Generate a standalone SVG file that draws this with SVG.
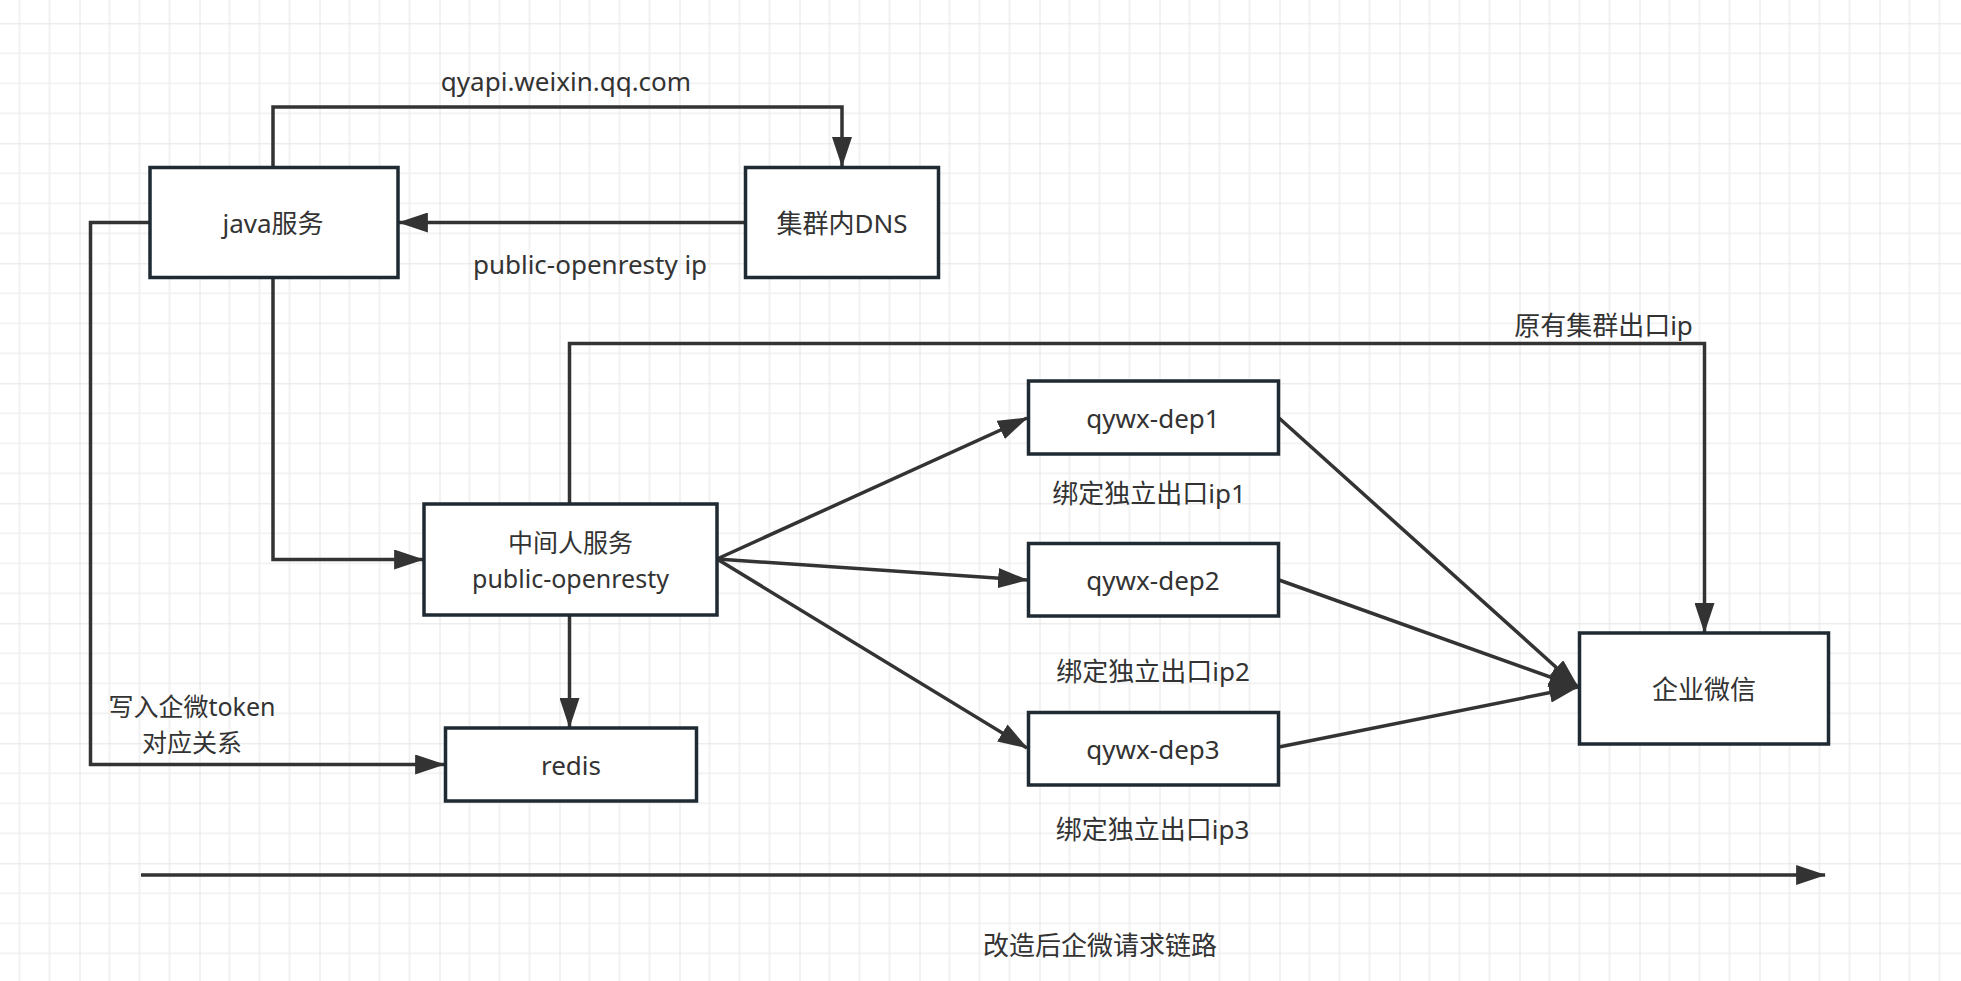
<svg xmlns="http://www.w3.org/2000/svg" width="1961" height="981" viewBox="0 0 1961 981">
<style>
.box{fill:#ffffff;stroke:#1f2a33;stroke-width:3.5}
.ln{fill:none;stroke:#333333;stroke-width:3.5;stroke-linejoin:miter}
.arr{marker-end:url(#ah)}
text{font-family:"Noto Sans","Noto Sans CJK SC",sans-serif;font-size:26px;fill:#333333;text-anchor:middle;dominant-baseline:central}
text.two{font-size:25px}
</style>
<defs>
<pattern id="grid" patternUnits="userSpaceOnUse" x="-40.5" y="23.3" width="120" height="120">
<path d="M30,0V120M60,0V120M90,0V120M0,30H120M0,60H120M0,90H120" stroke="#efefef" stroke-width="1.6" fill="none"/>
<path d="M0,0V120M0,0H120" stroke="#e5e5e5" stroke-width="2" fill="none"/>
</pattern>
<marker id="ah" markerUnits="userSpaceOnUse" markerWidth="30" markerHeight="20" viewBox="0 0 27 18" refX="26" refY="9" orient="auto">
<path d="M0,0L27,9L0,18z" fill="#333333"/>
</marker>
</defs>
<rect width="1961" height="981" fill="#ffffff"/>
<rect width="1961" height="981" fill="url(#grid)"/>
<g id="connectors">
<path class="ln arr" d="M273,167V107H842V166"/>
<path class="ln arr" d="M745,222.5H399"/>
<path class="ln arr" d="M150,222.5H90.5V764.5H444"/>
<path class="ln arr" d="M273,278V559.5H423"/>
<path class="ln arr" d="M569.5,504V343.5H1704.5V632"/>
<path class="ln arr" d="M569.5,615V727"/>
<path class="ln arr" d="M717,559L1027,418"/>
<path class="ln arr" d="M717,559L1027,580"/>
<path class="ln arr" d="M717,559L1027,748"/>
<path class="ln arr" d="M1279,418L1578,687"/>
<path class="ln arr" d="M1279,580L1578,687"/>
<path class="ln arr" d="M1279,747L1578,687"/>
<path class="ln arr" d="M141,875H1825"/>
<text x="566" y="81">qyapi.weixin.qq.com</text>
<text x="590" y="264">public-openresty ip</text>
<text x="1603.5" y="325">原有集群出口ip</text>
<text class="two" x="192" y="706">写入企微token</text>
<text class="two" x="192" y="742">对应关系</text>
<text x="1149" y="493">绑定独立出口ip1</text>
<text x="1153" y="671">绑定独立出口ip2</text>
<text x="1152.5" y="829">绑定独立出口ip3</text>
<text x="1100" y="945">改造后企微请求链路</text>
</g>
<g id="java">
<rect class="box" x="150" y="167.5" width="248" height="110"/>
<text x="273" y="223">java服务</text>
</g>
<g id="dns">
<rect class="box" x="745.5" y="167.5" width="193" height="110"/>
<text x="842" y="223">集群内DNS</text>
</g>
<g id="middle">
<rect class="box" x="424" y="504" width="293" height="111"/>
<text class="two" x="570.5" y="542">中间人服务</text>
<text class="two" x="570.5" y="578">public-openresty</text>
</g>
<g id="redis">
<rect class="box" x="445.5" y="728" width="251" height="73"/>
<text x="571" y="765">redis</text>
</g>
<g id="dep1">
<rect class="box" x="1028.5" y="381" width="250" height="73"/>
<text x="1153" y="417.5">qywx-dep1</text>
</g>
<g id="dep2">
<rect class="box" x="1028.5" y="543.5" width="250" height="72.5"/>
<text x="1153" y="580">qywx-dep2</text>
</g>
<g id="dep3">
<rect class="box" x="1028.5" y="712.5" width="250" height="72.5"/>
<text x="1153" y="749">qywx-dep3</text>
</g>
<g id="wecom">
<rect class="box" x="1579.5" y="633" width="249" height="111"/>
<text x="1704" y="689">企业微信</text>
</g>
</svg>
